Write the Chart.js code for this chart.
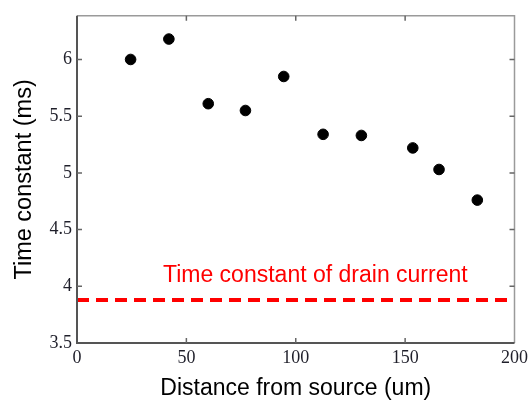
<!DOCTYPE html>
<html>
<head>
<meta charset="utf-8">
<script src="https://cdn.jsdelivr.net/npm/chart.js@4"></script>
<style>
  html, body { margin: 0; padding: 0; background: #fff; }
  #wrap { width: 532px; height: 400px; }
</style>
</head>
<body>
<div id="wrap"><canvas id="chart" width="532" height="400"></canvas></div>
<script>
// values
const distance = [24.5, 42, 60, 77, 94.5, 112.5, 130, 153.5, 165.5, 183];
const timeConst = [6.0, 6.18, 5.61, 5.55, 5.85, 5.34, 5.33, 5.22, 5.03, 4.76];
const drainTau = 3.88;
const drainLabel = "Time constant of drain current";
const drainLabelAt = [39.3, 4.036];
const xTicks = [0, 50, 100, 150, 200];
const yTicks = [3.5, 4, 4.5, 5, 5.5, 6];

// MATLAB-style box with inward ticks + red annotation
const frame = {
  id: "frame",
  afterDraw(chart) {
    const { ctx, chartArea: a, scales: { x, y } } = chart;
    ctx.save();
    ctx.strokeStyle = "#9a9a9a";
    ctx.lineWidth = 1.5;
    ctx.beginPath();
    ctx.moveTo(a.left, a.top); ctx.lineTo(a.right, a.top); ctx.lineTo(a.right, a.bottom);
    ctx.stroke();
    ctx.strokeStyle = "#555";
    ctx.lineWidth = 2;
    ctx.beginPath();
    ctx.moveTo(a.left, a.top); ctx.lineTo(a.left, a.bottom); ctx.lineTo(a.right, a.bottom);
    ctx.stroke();

    ctx.strokeStyle = "#666";
    ctx.lineWidth = 1.5;
    ctx.beginPath();
    xTicks.slice(1, -1).forEach(v => {
      const px = x.getPixelForValue(v);
      ctx.moveTo(px, a.bottom); ctx.lineTo(px, a.bottom - 5);
      ctx.moveTo(px, a.top); ctx.lineTo(px, a.top + 5);
    });
    yTicks.slice(1).forEach(v => {
      const py = y.getPixelForValue(v);
      ctx.moveTo(a.left, py); ctx.lineTo(a.left + 5, py);
      ctx.moveTo(a.right, py); ctx.lineTo(a.right - 5, py);
    });
    ctx.stroke();

    ctx.fillStyle = "#ff0000";
    ctx.font = "23px 'Liberation Sans', Arial, sans-serif";
    ctx.textBaseline = "alphabetic";
    ctx.textAlign = "left";
    ctx.fillText(drainLabel, x.getPixelForValue(drainLabelAt[0]), y.getPixelForValue(drainLabelAt[1]));
    ctx.restore();
  }
};

const ctx = document.getElementById("chart").getContext("2d");
new Chart(ctx, {
  type: "scatter",
  data: {
    datasets: [
      {
        type: "line",
        label: "drain",
        data: [{ x: 0, y: drainTau }, { x: 200, y: drainTau }],
        borderColor: "#ff0000",
        borderWidth: 4,
        borderDash: [12, 7],
        pointRadius: 0,
        fill: false,
      },
      {
        label: "Time constant",
        data: distance.map((d, i) => ({ x: d, y: timeConst[i] })),
        backgroundColor: "#000",
        borderColor: "#000",
        pointRadius: 5.3,
      },
    ],
  },
  options: {
    responsive: false,
    animation: false,
    layout: { padding: { top: 13, right: 17, left: 0, bottom: 0 } },
    plugins: { legend: { display: false }, tooltip: { enabled: false } },
    scales: {
      x: {
        type: "linear",
        min: 0,
        max: 200,
        afterBuildTicks: s => { s.ticks = xTicks.map(v => ({ value: v })); },
        afterFit: s => { s.height = 57; },
        grid: { display: false, drawTicks: false },
        border: { display: false },
        ticks: {
          padding: 4,
          color: "#1f1f2a",
          font: { family: "'Liberation Serif', 'Times New Roman', serif", size: 18 },
        },
        title: {
          display: true,
          text: "Distance from source (um)",
          color: "#000",
          padding: { top: 0, bottom: -2 },
          font: { family: "'Liberation Sans', Arial, sans-serif", size: 23 },
        },
      },
      y: {
        min: 3.5,
        max: 6.385,
        afterBuildTicks: s => { s.ticks = yTicks.map(v => ({ value: v })); },
        afterFit: s => { s.width = 77; },
        grid: { display: false, drawTicks: false },
        border: { display: false },
        ticks: {
          padding: 5,
          color: "#1f1f2a",
          callback: v => String(v),
          font: { family: "'Liberation Serif', 'Times New Roman', serif", size: 18 },
        },
        title: {
          display: true,
          text: "Time constant (ms)",
          color: "#000",
          padding: { top: 10, bottom: 0 },
          font: { family: "'Liberation Sans', Arial, sans-serif", size: 23.5 },
        },
      },
    },
  },
  plugins: [frame],
});
</script>
</body>
</html>
